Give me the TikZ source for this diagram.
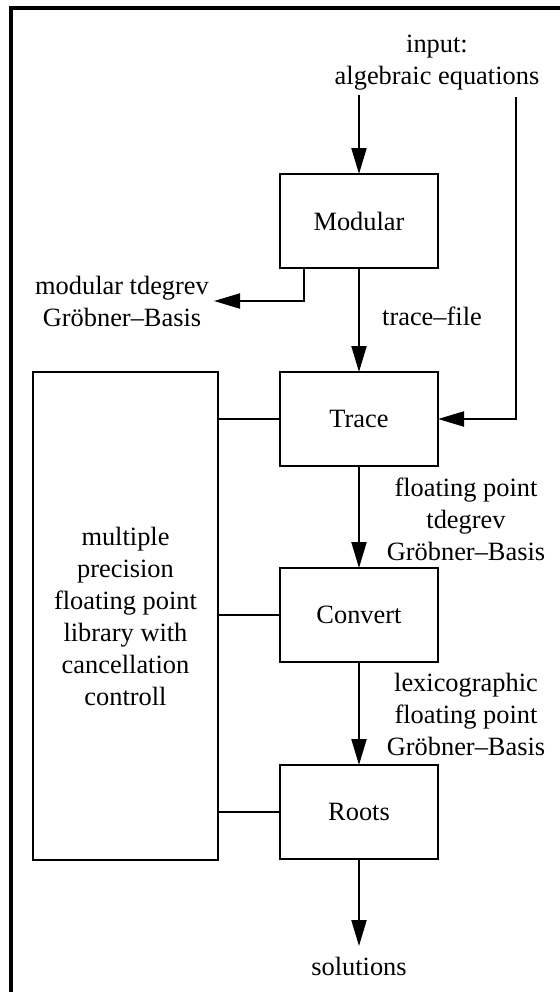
\documentclass[tikz,border=0pt]{standalone}
\usepackage{fontspec}
\setmainfont{Liberation Serif}
\usetikzlibrary{arrows.meta}

\begin{document}
\begin{tikzpicture}[x=0.5pt, y=-0.5pt, line width=1pt,
  every node/.style={font=\fontsize{13.2}{16}\selectfont, align=center, inner sep=0pt},
  stage/.style={draw, minimum width=79pt, minimum height=47pt, outer sep=0pt},
  arr/.style={-{Triangle[length=13pt, width=7.5pt]}}]
  \useasboundingbox (0,0) rectangle (560,992);
  % draw the cut frame
  \draw[line width=1.6pt] (11,992) -- (11,8) -- (560,8);
  % draw stage boxes
  \node[stage] (modular) at (359,221) {Modular};
  \node[stage] (trace) at (359,419) {Trace};
  \node[stage] (convert) at (359,615) {Convert};
  \node[stage] (roots) at (359,812) {Roots};
  \node[draw, minimum width=92.5pt, minimum height=244pt, outer sep=0pt] (library) at (125.5,616)
    {multiple\\precision\\floating point\\library with\\cancellation\\controll};
  % draw texts beside the flow
  \node (input_txt) at (437,63) {input:\\algebraic equations};
  \node (modgb_txt) at (122,301) {modular tdegrev\\Gröbner–Basis};
  \node (tracefile_txt) at (432,316) {trace–file};
  \node (floatgb_txt) at (466,519) {floating point\\tdegrev\\Gröbner–Basis};
  \node (lexgb_txt) at (466,714) {lexicographic\\floating point\\Gröbner–Basis};
  \node (solutions_txt) at (359,966) {solutions};
  % draw free ends of connectors
  \coordinate (input_left) at (359,95);
  \coordinate (input_right) at (516,97);
  \coordinate (branch_top) at (304,269);
  \coordinate (branch_end) at (214,301);
  \coordinate (solutions_top) at (359,946);
  % draw arrows along the flow
  \draw[arr] (input_left) -- (modular.north);
  \draw[arr] (input_right) |- (trace.east);
  \draw[arr] (branch_top) |- (branch_end);
  \draw[arr] (modular.south) -- (trace.north);
  \draw[arr] (trace.south) -- (convert.north);
  \draw[arr] (convert.south) -- (roots.north);
  \draw[arr] (roots.south) -- (solutions_top);
  % draw library links
  \draw (library.east |- trace.west) -- (trace.west);
  \draw (library.east |- convert.west) -- (convert.west);
  \draw (library.east |- roots.west) -- (roots.west);
\end{tikzpicture}
\end{document}
